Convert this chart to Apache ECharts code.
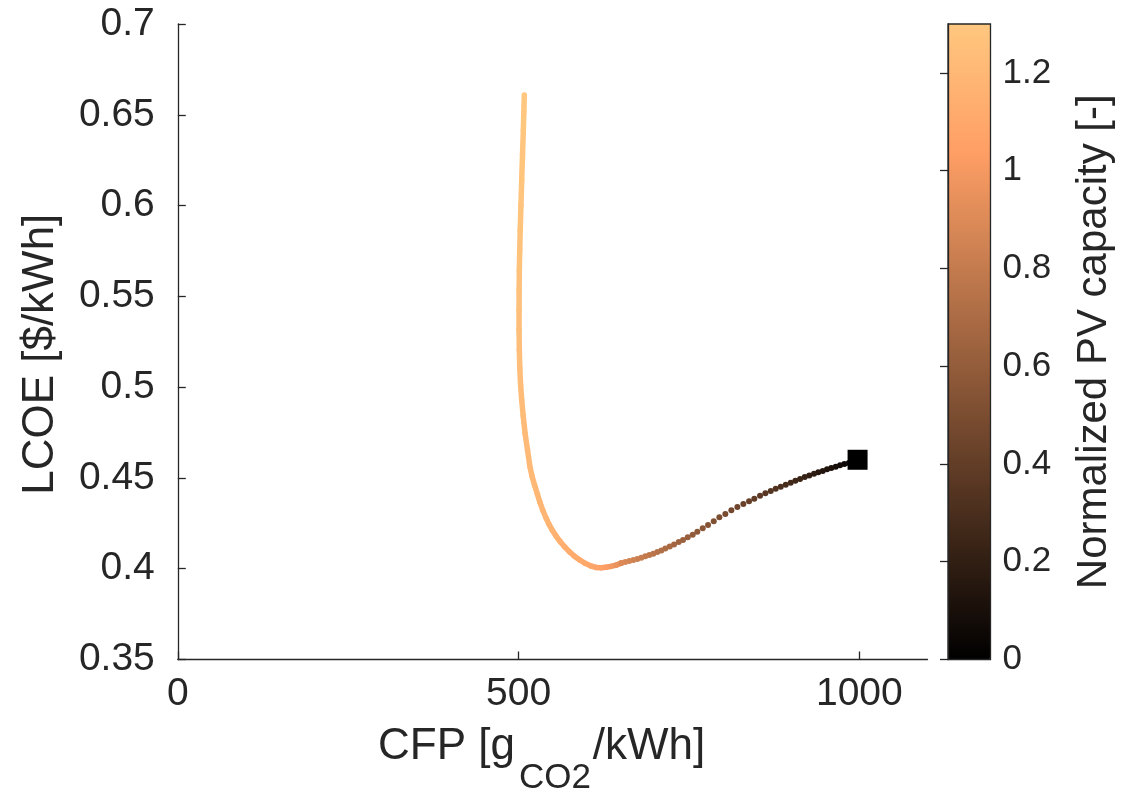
<!DOCTYPE html>
<html>
<head>
<meta charset="utf-8">
<script src="https://cdn.jsdelivr.net/npm/echarts@6/dist/echarts.min.js"></script>
<style>
html,body{margin:0;padding:0;background:#ffffff;}
#chart{width:1133px;height:794px;}
</style>
</head>
<body>
<div id="chart"></div>
<script>
// ---- Data ----
// Separated dots (start at PV = 0 near CFP 1000)
const dotCfp = [997.4, 991.0, 984.6, 978.0, 971.7, 965.4, 958.9, 952.6, 946.3, 939.8,
  933.5, 926.6, 919.9, 913.0, 906.1, 899.3, 892.0, 884.7, 877.3, 870.0,
  862.1, 854.3, 845.9, 838.2, 829.8, 821.0, 812.2, 803.4, 794.6, 786.4,
  778.0, 770.2, 762.3, 755.5, 748.2, 741.3, 735.0, 728.1, 721.8, 715.3,
  709.5, 703.6, 697.7, 691.9, 686.0, 680.1, 674.3, 668.4, 662.5, 656.6, 650.8];
const dotLcoe = [0.4599, 0.4591, 0.4582, 0.4577, 0.4570, 0.4562, 0.4555, 0.4548, 0.4538, 0.4531,
  0.4523, 0.4514, 0.4505, 0.4494, 0.4485, 0.4474, 0.4463, 0.4452, 0.4441, 0.4428,
  0.4415, 0.4402, 0.4386, 0.4371, 0.4356, 0.4340, 0.4322, 0.4301, 0.4283, 0.4261,
  0.4241, 0.4223, 0.4204, 0.4187, 0.4173, 0.4158, 0.4147, 0.4134, 0.4123, 0.4112,
  0.4101, 0.4092, 0.4083, 0.4076, 0.4068, 0.4061, 0.4054, 0.4048, 0.4043, 0.4037, 0.4031];
const dotPv = [0, 0.018, 0.036, 0.054, 0.072, 0.09, 0.108, 0.126, 0.144, 0.162,
  0.18, 0.198, 0.216, 0.234, 0.252, 0.27, 0.288, 0.306, 0.324, 0.342,
  0.36, 0.378, 0.396, 0.414, 0.432, 0.45, 0.468, 0.486, 0.504, 0.522,
  0.54, 0.558, 0.576, 0.594, 0.612, 0.63, 0.648, 0.666, 0.684, 0.702,
  0.72, 0.738, 0.756, 0.774, 0.792, 0.81, 0.828, 0.846, 0.864, 0.882, 0.9];

// Densely packed part (looks continuous)
const lineCfp = [650.8, 643.0, 635.7, 628.3, 621.0, 613.6, 606.3, 597.5, 590.2, 582.0,
  574.5, 567.5, 561.0, 555.0, 549.5, 544.5, 540.0, 535.5, 531.5, 527.5,
  523.5, 519.7, 516.8, 513.1, 509.5, 506.8, 504.6, 503.0, 501.8, 501.1,
  500.7, 500.7, 500.8, 501.1, 501.7, 502.4, 503.5, 504.6, 505.8, 507.0,
  507.7, 508.4];
const lineLcoe = [0.4031, 0.4020, 0.4013, 0.4008, 0.4005, 0.4007, 0.4015, 0.4030, 0.4047, 0.4069,
  0.4094, 0.4121, 0.4150, 0.4180, 0.4212, 0.4246, 0.4282, 0.4322, 0.4364, 0.4412,
  0.4460, 0.4510, 0.4560, 0.4654, 0.4747, 0.4841, 0.4929, 0.5012, 0.5105, 0.5205,
  0.5315, 0.5425, 0.5535, 0.5645, 0.5755, 0.5865, 0.6003, 0.6141, 0.6279, 0.6416,
  0.6515, 0.6609];
const linePv = [0.90, 0.93, 0.96, 0.99, 1.02, 1.05, 1.07, 1.09, 1.10, 1.11,
  1.12, 1.13, 1.14, 1.15, 1.16, 1.17, 1.175, 1.18, 1.185, 1.19,
  1.195, 1.20, 1.205, 1.21, 1.215, 1.22, 1.225, 1.23, 1.235, 1.24,
  1.245, 1.25, 1.255, 1.26, 1.265, 1.27, 1.275, 1.28, 1.285, 1.29,
  1.295, 1.30];

// Starting point (square marker)
const startCfp = [997.4];
const startLcoe = [0.46];

// Tick labels
const xTicks = [0, 500, 1000];
const yTicks = [0.35, 0.4, 0.45, 0.5, 0.55, 0.6, 0.65, 0.7];
const cbTicks = [0, 0.2, 0.4, 0.6, 0.8, 1, 1.2];

// copper colormap stops (evenly spaced 0..1)
const copper = ['#000000', '#402819', '#805033', '#BF784C', '#FF9F65', '#FFC77F'];

// ---- Build ----
const dotData = dotCfp.map((c, i) => [c, dotLcoe[i], dotPv[i]]);
const lineData = lineCfp.map((c, i) => [c, lineLcoe[i], linePv[i]]);
const startData = startCfp.map((c, i) => [c, startLcoe[i]]);

const txt = '#262626';
const font = 'Liberation Sans, Arial, Helvetica, sans-serif';
const axLine = { show: true, lineStyle: { color: txt, width: 1.3 } };
const fmt = v => String(parseFloat(Number(v).toFixed(2)));

const chart = echarts.init(document.getElementById('chart'), null, { renderer: 'canvas' });
chart.setOption({
  animation: false,
  backgroundColor: '#ffffff',
  textStyle: { fontFamily: font, color: txt },
  grid: [
    { left: 177.8, top: 24, width: 749.7, height: 635.5, containLabel: false, outerBoundsMode: 'none' },
    { left: 948, top: 24, width: 42.5, height: 635.5, show: true, z: 10, containLabel: false, outerBoundsMode: 'none',
      backgroundColor: 'transparent', borderColor: txt, borderWidth: 1.3 }
  ],
  xAxis: [
    {
      gridIndex: 0, type: 'value', min: 0, max: 1100, interval: 500,
      axisLine: axLine,
      axisTick: { show: true, inside: true, length: 8, lineStyle: { color: txt, width: 1.3 }, customValues: xTicks },
      axisLabel: { customValues: xTicks, fontSize: 39, color: txt, fontFamily: font, margin: 15, formatter: fmt },
      splitLine: { show: false },
      name: '{m|CFP [g}{s|CO2}{m|/kWh]}',
      nameLocation: 'middle', nameGap: 65,
      nameTextStyle: {
        padding: [0, 22, 0, 0],
        rich: {
          m: { fontSize: 44, fontFamily: font, color: txt, lineHeight: 44, verticalAlign: 'top' },
          s: { fontSize: 35, fontFamily: font, color: txt, lineHeight: 35, padding: [36, 2, 0, 4], verticalAlign: 'top' }
        }
      }
    },
    { gridIndex: 1, type: 'value', min: 0, max: 1, show: false }
  ],
  yAxis: [
    {
      gridIndex: 0, type: 'value', min: 0.35, max: 0.7, interval: 0.05,
      axisLine: axLine,
      axisTick: { show: true, inside: true, length: 8, lineStyle: { color: txt, width: 1.3 }, customValues: yTicks },
      axisLabel: { customValues: yTicks, fontSize: 39, color: txt, fontFamily: font, margin: 23, formatter: fmt },
      splitLine: { show: false },
      name: 'LCOE [$/kWh]',
      nameLocation: 'middle', nameGap: 115,
      nameTextStyle: { fontSize: 44, fontFamily: font, color: txt, padding: [0, 25, 0, 0] }
    },
    {
      gridIndex: 1, type: 'value', position: 'right', min: 0, max: 1.3, interval: 0.2, z: 10,
      axisLine: axLine,
      axisTick: { show: true, inside: true, length: 8, lineStyle: { color: txt, width: 1.3 }, customValues: cbTicks },
      axisLabel: { customValues: cbTicks, fontSize: 35, color: txt, fontFamily: font, margin: 12, formatter: fmt },
      splitLine: { show: false },
      name: 'Normalized PV capacity [-]',
      nameLocation: 'middle', nameGap: 83,
      nameTextStyle: { fontSize: 42, fontFamily: font, color: txt }
    }
  ],
  visualMap: {
    type: 'continuous', min: 0, max: 1.3, dimension: 2, seriesIndex: [0, 1],
    inRange: { color: copper },
    calculable: false, hoverLink: false, orient: 'vertical',
    left: 948, top: 24, itemWidth: 42.5, itemHeight: 635.5, padding: 0,
    text: null, showLabel: false
  },
  series: [
    {
      type: 'custom', xAxisIndex: 0, yAxisIndex: 0, silent: true,
      data: lineData,
      encode: { x: 0, y: 1 },
      renderItem: function (params, api) {
        const i = params.dataIndex;
        const p1 = api.coord([api.value(0), api.value(1)]);
        if (i === 0) {
          return { type: 'circle', shape: { cx: p1[0], cy: p1[1], r: 2.8 }, style: { fill: api.visual('color') } };
        }
        const p0 = api.coord([lineCfp[i - 1], lineLcoe[i - 1]]);
        return {
          type: 'line',
          shape: { x1: p0[0], y1: p0[1], x2: p1[0], y2: p1[1] },
          style: { stroke: api.visual('color'), lineWidth: 5.5, lineCap: 'round' }
        };
      }
    },
    {
      type: 'scatter', xAxisIndex: 0, yAxisIndex: 0, silent: true,
      data: dotData, symbol: 'circle', symbolSize: 6,
      itemStyle: { opacity: 1 },
      encode: { x: 0, y: 1 }
    },
    {
      type: 'scatter', xAxisIndex: 0, yAxisIndex: 0, silent: true,
      data: startData, symbol: 'rect', symbolSize: 20,
      itemStyle: { color: '#000000', opacity: 1 }, z: 5
    }
  ]
});
</script>
</body>
</html>
